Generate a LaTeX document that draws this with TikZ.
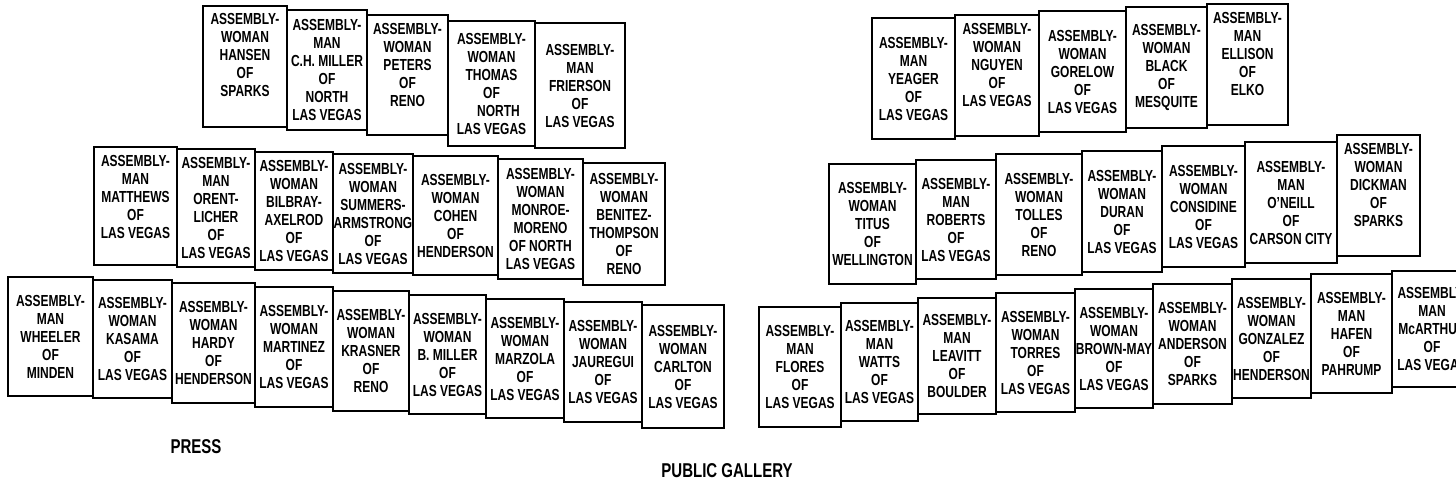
\documentclass[tikz,border=0pt]{standalone}
\usepackage{fontspec}
\newfontfamily\nb[FakeStretch=0.75]{Liberation Sans Bold}
\tikzset{
  seatbox/.style={draw=black, line width=1.8pt, inner sep=0pt, align=center,
    font=\nb\fontsize{16}{18}\selectfont},
  areatext/.style={inner sep=0pt, font=\nb\fontsize{20}{22}\selectfont}
}
\newcommand\seat[6]{\node[seatbox, minimum width={#4pt-#2pt}, minimum height={#5pt-#3pt}] (#1) at ({(#2+#4)/2},{(#3+#5)/2}) {#6};}
\begin{document}
\begin{tikzpicture}[x=1pt,y=-1pt]
\useasboundingbox (0,0) rectangle (1456,488);
\clip (0,0) rectangle (1456,488);
% left block, row 1
\seat{hansen}{203}{6}{287}{127}{ASSEMBLY-\\WOMAN\\HANSEN\\OF\\SPARKS\\[6pt]}
\seat{chmiller}{287}{10}{367}{130}{ASSEMBLY-\\MAN\\C.H. MILLER\\OF\\NORTH\\LAS VEGAS}
\seat{peters}{367}{15}{448}{135}{ASSEMBLY-\\WOMAN\\PETERS\\OF\\RENO\\[2pt]}
\seat{thomas}{448}{21}{535}{146}{ASSEMBLY-\\WOMAN\\THOMAS\\OF\\\hspace*{14pt}NORTH\\LAS VEGAS}
\seat{frierson}{535}{23}{625}{148}{ASSEMBLY-\\MAN\\FRIERSON\\OF\\LAS VEGAS}
% left block, row 2
\seat{matthews}{94}{147}{177}{265}{ASSEMBLY-\\MAN\\MATTHEWS\\OF\\LAS VEGAS\\[0pt]}
\seat{orentlicher}{177}{149}{255}{267}{ASSEMBLY-\\MAN\\ORENT-\\LICHER\\OF\\LAS VEGAS}
\seat{bilbray}{255}{152}{333}{270}{ASSEMBLY-\\WOMAN\\BILBRAY-\\AXELROD\\OF\\LAS VEGAS}
\seat{summers}{333}{154}{413}{273}{ASSEMBLY-\\WOMAN\\SUMMERS-\\ARMSTRONG\\OF\\LAS VEGAS}
\seat{cohen}{413}{156}{498}{275}{ASSEMBLY-\\WOMAN\\COHEN\\OF\\HENDERSON}
\seat{monroe}{498}{159}{583}{279}{ASSEMBLY-\\WOMAN\\MONROE-\\MORENO\\OF NORTH\\LAS VEGAS}
\seat{benitez}{583}{163}{665}{285}{ASSEMBLY-\\WOMAN\\BENITEZ-\\THOMPSON\\OF\\RENO}
% left block, row 3
\seat{wheeler}{8}{277}{93}{396}{ASSEMBLY-\\MAN\\WHEELER\\OF\\MINDEN}
\seat{kasama}{93}{280}{172}{398}{ASSEMBLY-\\WOMAN\\KASAMA\\OF\\LAS VEGAS}
\seat{hardy}{172}{283}{255}{403}{ASSEMBLY-\\WOMAN\\HARDY\\OF\\HENDERSON}
\seat{martinez}{255}{287}{333}{407}{ASSEMBLY-\\WOMAN\\MARTINEZ\\OF\\LAS VEGAS}
\seat{krasner}{333}{291}{409}{411}{ASSEMBLY-\\WOMAN\\KRASNER\\OF\\RENO}
\seat{bmiller}{409}{295}{486}{414}{ASSEMBLY-\\WOMAN\\B. MILLER\\OF\\LAS VEGAS}
\seat{marzola}{486}{299}{564}{418}{ASSEMBLY-\\WOMAN\\MARZOLA\\OF\\LAS VEGAS}
\seat{jauregui}{564}{302}{642}{422}{ASSEMBLY-\\WOMAN\\JAUREGUI\\OF\\LAS VEGAS}
\seat{carlton}{642}{305}{724}{428}{ASSEMBLY-\\WOMAN\\CARLTON\\OF\\LAS VEGAS}
% right block, row 1
\seat{yeager}{872}{18}{955}{139}{ASSEMBLY-\\MAN\\YEAGER\\OF\\LAS VEGAS}
\seat{nguyen}{955}{15}{1039}{136}{ASSEMBLY-\\WOMAN\\NGUYEN\\OF\\LAS VEGAS\\[4pt]}
\seat{gorelow}{1039}{11}{1126}{132}{ASSEMBLY-\\WOMAN\\GORELOW\\OF\\LAS VEGAS}
\seat{black}{1126}{7}{1207}{128}{ASSEMBLY-\\WOMAN\\BLACK\\OF\\MESQUITE}
\seat{ellison}{1207}{4}{1288}{125}{ASSEMBLY-\\MAN\\ELLISON\\OF\\ELKO\\[4pt]}
% right block, row 2
\seat{titus}{829}{164}{916}{284}{ASSEMBLY-\\WOMAN\\TITUS\\OF\\WELLINGTON}
\seat{roberts}{916}{160}{996}{279}{ASSEMBLY-\\MAN\\ROBERTS\\OF\\LAS VEGAS}
\seat{tolles}{996}{154}{1082}{275}{ASSEMBLY-\\WOMAN\\TOLLES\\OF\\RENO}
\seat{duran}{1082}{151}{1162}{272}{ASSEMBLY-\\WOMAN\\DURAN\\OF\\LAS VEGAS}
\seat{considine}{1162}{146}{1245}{267}{ASSEMBLY-\\WOMAN\\CONSIDINE\\OF\\LAS VEGAS}
\seat{oneill}{1245}{142}{1337}{263}{ASSEMBLY-\\MAN\\O’NEILL\\OF\\CARSON CITY}
\seat{dickman}{1337}{135}{1420}{256}{ASSEMBLY-\\WOMAN\\DICKMAN\\OF\\SPARKS\\[4pt]}
% right block, row 3
\seat{flores}{759}{307}{841}{427}{ASSEMBLY-\\MAN\\FLORES\\OF\\LAS VEGAS}
\seat{watts}{841}{303}{918}{421}{ASSEMBLY-\\MAN\\WATTS\\OF\\LAS VEGAS}
\seat{leavitt}{918}{298}{996}{414}{ASSEMBLY-\\MAN\\LEAVITT\\OF\\BOULDER}
\seat{torres}{996}{293}{1075}{412}{ASSEMBLY-\\WOMAN\\TORRES\\OF\\LAS VEGAS}
\seat{brownmay}{1075}{289}{1153}{408}{ASSEMBLY-\\WOMAN\\BROWN-MAY\\OF\\LAS VEGAS}
\seat{anderson}{1153}{284}{1232}{404}{ASSEMBLY-\\WOMAN\\ANDERSON\\OF\\SPARKS}
\seat{gonzalez}{1232}{279}{1311}{398}{ASSEMBLY-\\WOMAN\\GONZALEZ\\OF\\HENDERSON}
\seat{hafen}{1311}{274}{1392}{393}{ASSEMBLY-\\MAN\\HAFEN\\OF\\PAHRUMP}
\seat{mcarthur}{1392}{271}{1472}{387}{ASSEMBLY-\\MAN\\McARTHUR\\OF\\LAS VEGAS}
% area labels
\node[areatext] (press) at (196,447) {PRESS};
\node[areatext] (gallery) at (727,471) {PUBLIC GALLERY};
\end{tikzpicture}
\end{document}
